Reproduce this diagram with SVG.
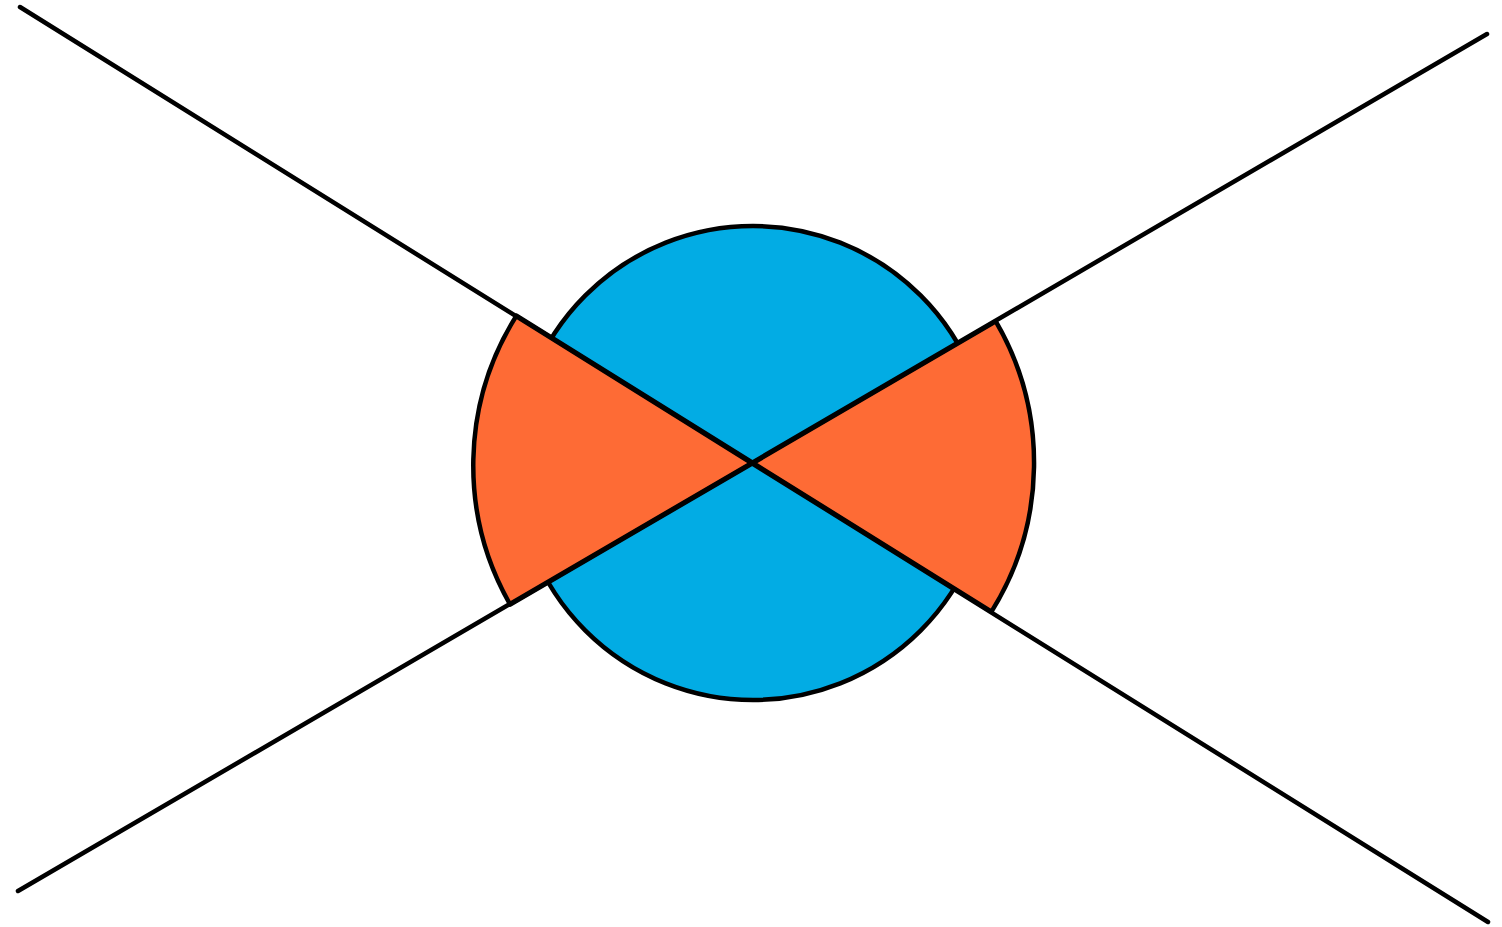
<svg xmlns="http://www.w3.org/2000/svg" width="1502" height="927" viewBox="0 0 1502 927">
<style>
.edge{stroke:#000;stroke-width:4.5;fill:none;stroke-linecap:round}
.shape{stroke:#000;stroke-width:4.5;stroke-linejoin:round}
</style>
<rect width="1502" height="927" fill="#fff"/>
<g id="circle">
<circle class="shape" cx="753" cy="463" r="237" fill="#02ACE4"/>
</g>
<g id="wedge-left">
<path class="shape" fill="#FE6B35" d="M753,463 L516.5,315.6 A281,281 0 0,0 510.2,604.6 Z"/>
</g>
<g id="wedge-right">
<path class="shape" fill="#FE6B35" d="M753,463 L995.8,321.4 A281,281 0 0,1 991.5,611.6 Z"/>
</g>
<g id="connectors">
<line class="edge" x1="20" y1="7" x2="1488" y2="922"/>
<line class="edge" x1="18" y1="891" x2="1487" y2="34"/>
</g>
</svg>
